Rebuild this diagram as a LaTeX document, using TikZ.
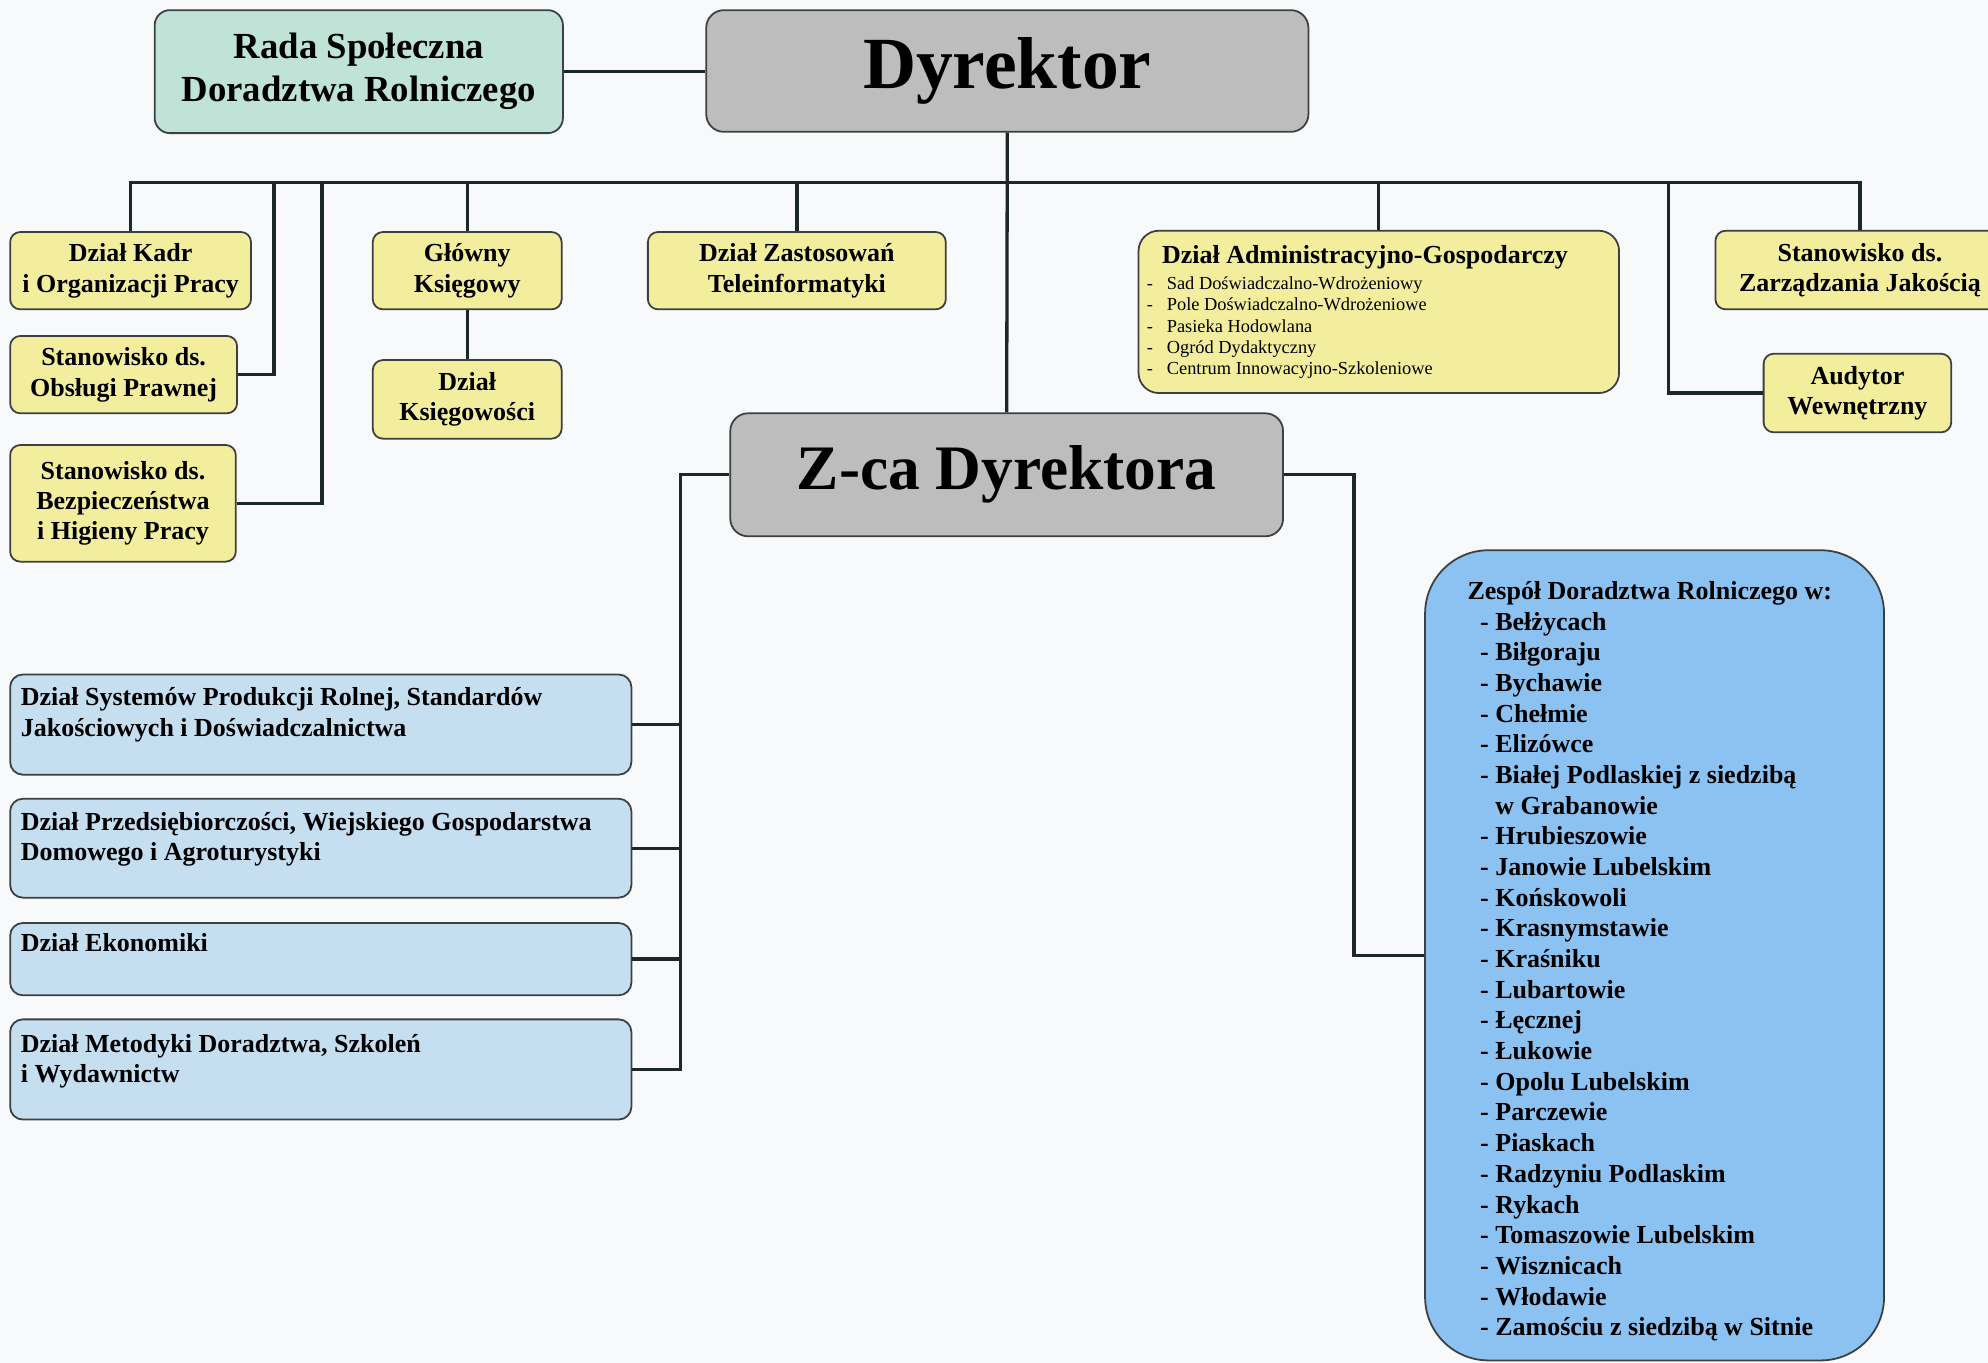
\documentclass[tikz,border=0pt]{standalone}
\usepackage{fontspec}
\setmainfont{Liberation Serif}
\usepackage{xcolor}
\usetikzlibrary{positioning}
\definecolor{pagebg}{RGB}{247,249,250}
\definecolor{boxline}{RGB}{60,64,64}
\definecolor{linecol}{RGB}{28,40,38}
\definecolor{headgray}{RGB}{190,189,190}
\definecolor{radateal}{RGB}{192,227,216}
\definecolor{deptyellow}{RGB}{243,238,158}
\definecolor{deptblue}{RGB}{197,223,241}
\definecolor{teamblue}{RGB}{140,194,241}
\newcommand{\boxfont}{\fontsize{20.5}{24}\selectfont\bfseries}
\newcommand{\subfont}{\fontsize{14.5}{16.8}\selectfont\mdseries}

\begin{document}
\begin{tikzpicture}[
    x=1pt, y=-1pt,
    box/.style={rectangle, rounded corners=8pt, draw=boxline, line width=1.4pt, inner sep=0pt, align=center, font=\boxfont},
    yellowbox/.style={box, fill=deptyellow},
    bluebox/.style={box, fill=deptblue, rounded corners=10pt, minimum width=490pt},
    headbox/.style={box, fill=headgray, rounded corners=14pt},
    lefttext/.style={inner sep=0pt, align=left, font=\boxfont},
    link/.style={draw=linecol, line width=2.6pt}
]
    \fill[pagebg] (0,0) rectangle (1568,1075);
    \useasboundingbox (0,0) rectangle (1568,1075);

    % Top: management
    \node[box, fill=radateal, rounded corners=12pt, minimum width=322pt, minimum height=97pt,
          font=\fontsize{29}{34}\selectfont\bfseries] (rada) at (283,56.5) {Rada Społeczna\\Doradztwa Rolniczego};
    \node[headbox, minimum width=475pt, minimum height=96pt,
          font=\fontsize{58}{60}\selectfont\bfseries] (dyr) at (794.5,56) {Dyrektor};

    % Row under the director
    \node[yellowbox, minimum width=190pt, minimum height=61pt] (kadr) at (103,213.5) {Dział Kadr\\i Organizacji Pracy};
    \node[yellowbox, minimum width=179pt, minimum height=61pt] (prawna) at (97.5,295.5) {Stanowisko ds.\\Obsługi Prawnej};
    \node[yellowbox, minimum width=178pt, minimum height=92pt] (bhp) at (97,397) {Stanowisko ds.\\Bezpieczeństwa\\i Higieny Pracy};
    \node[yellowbox, minimum width=149pt, minimum height=61pt] (ksieg) at (368.5,213.5) {Główny\\Księgowy};
    \node[yellowbox, minimum width=149pt, minimum height=62pt] (ksiegowosc) at (368.5,315) {Dział\\Księgowości};
    \node[yellowbox, minimum width=235pt, minimum height=61pt] (tele) at (628.5,213.5) {Dział Zastosowań\\Teleinformatyki};
    \node[yellowbox, rounded corners=16pt, minimum width=379pt, minimum height=128pt] (admin) at (1087.5,246) {};
    \node[lefttext, below right=12pt and 19pt of admin.north west] (admintitle) {Dział Administracyjno-Gospodarczy};
    \node[lefttext, font=\subfont, below right=35pt and 7pt of admin.north west] (adminlist) {%
        \begin{tabular}{@{}l@{\hspace{11pt}}l@{}}
        - & Sad Doświadczalno-Wdrożeniowy\\
        - & Pole Doświadczalno-Wdrożeniowe\\
        - & Pasieka Hodowlana\\
        - & Ogród Dydaktyczny\\
        - & Centrum Innowacyjno-Szkoleniowe
        \end{tabular}};
    \node[yellowbox, minimum width=228pt, minimum height=62pt] (jakosc) at (1467,213) {Stanowisko ds.\\Zarządzania Jakością};
    \node[yellowbox, minimum width=148pt, minimum height=62pt] (audytor) at (1465,310) {Audytor\\Wewnętrzny};

    % Deputy director
    \node[headbox, minimum width=436pt, minimum height=97pt,
          font=\fontsize{50}{52}\selectfont\bfseries] (zca) at (794,374.5) {Z-ca Dyrektora};

    % Left: departments of the deputy
    \node[bluebox, minimum height=79pt] (sys) at (253,571.5) {};
    \node[bluebox, minimum height=78pt] (prz) at (253,669) {};
    \node[bluebox, minimum height=57pt] (eko) at (253,756.5) {};
    \node[bluebox, minimum height=79pt] (met) at (253,843.5) {};
    \node[lefttext, below right=11pt and 9pt of sys.north west] (systxt) {Dział Systemów Produkcji Rolnej, Standardów\\Jakościowych i Doświadczalnictwa};
    \node[lefttext, below right=11pt and 9pt of prz.north west] (prztxt) {Dział Przedsiębiorczości, Wiejskiego Gospodarstwa\\Domowego i Agroturystyki};
    \node[lefttext, below right=9pt and 9pt of eko.north west] (ekotxt) {Dział Ekonomiki};
    \node[lefttext, below right=12pt and 9pt of met.north west] (mettxt) {Dział Metodyki Doradztwa, Szkoleń\\i Wydawnictw};

    % Right: advisory teams
    \node[box, fill=teamblue, rounded corners=50pt, minimum width=362pt, minimum height=639pt] (zespol) at (1305,753.5) {};
    \node[lefttext, font=\fontsize{20.5}{24.2}\selectfont\bfseries, below right=25pt and 34pt of zespol.north west] (zespoltxt) {%
        Zespół Doradztwa Rolniczego w:\\
        \hspace*{10pt}- Bełżycach\\
        \hspace*{10pt}- Biłgoraju\\
        \hspace*{10pt}- Bychawie\\
        \hspace*{10pt}- Chełmie\\
        \hspace*{10pt}- Elizówce\\
        \hspace*{10pt}- Białej Podlaskiej z siedzibą\\
        \hspace*{10pt}\hphantom{- }w Grabanowie\\
        \hspace*{10pt}- Hrubieszowie\\
        \hspace*{10pt}- Janowie Lubelskim\\
        \hspace*{10pt}- Końskowoli\\
        \hspace*{10pt}- Krasnymstawie\\
        \hspace*{10pt}- Kraśniku\\
        \hspace*{10pt}- Lubartowie\\
        \hspace*{10pt}- Łęcznej\\
        \hspace*{10pt}- Łukowie\\
        \hspace*{10pt}- Opolu Lubelskim\\
        \hspace*{10pt}- Parczewie\\
        \hspace*{10pt}- Piaskach\\
        \hspace*{10pt}- Radzyniu Podlaskim\\
        \hspace*{10pt}- Rykach\\
        \hspace*{10pt}- Tomaszowie Lubelskim\\
        \hspace*{10pt}- Wisznicach\\
        \hspace*{10pt}- Włodawie\\
        \hspace*{10pt}- Zamościu z siedzibą w Sitnie};

    % Junctions
    \coordinate (bus) at (794,144);
    \coordinate (jprawna) at (216,144);
    \coordinate (jbhp) at (254,144);
    \coordinate (jaudyt) at (1316,144);
    \coordinate (lspine) at (537,374.5);
    \coordinate (rspine) at (1068,374.5);

    % Lines
    \draw[link] (rada.east) -- (rada.east -| dyr.west);
    \draw[link] (dyr.south) -- (zca.north);
    \draw[link] (kadr.north) |- (bus) -| (jakosc.north);
    \foreach \n in {ksieg, tele, admin}
        \draw[link] (\n.north) -- (\n.north |- bus);
    \draw[link] (prawna.east) -| (jprawna);
    \draw[link] (bhp.east) -| (jbhp);
    \draw[link] (audytor.west) -| (jaudyt);
    \draw[link] (ksieg.south) -- (ksiegowosc.north);
    \draw[link] (zca.west) -- (lspine) |- (met.east);
    \foreach \n in {sys, prz, eko}
        \draw[link] (\n.east) -- (\n.east -| lspine);
    \draw[link] (zca.east) -- (rspine) |- (zespol.west);
\end{tikzpicture}
\end{document}
